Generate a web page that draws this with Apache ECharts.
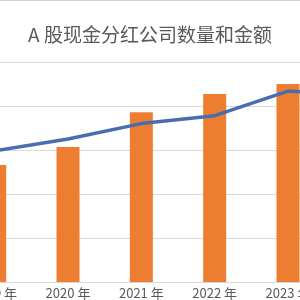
<!DOCTYPE html>
<html><head><meta charset="utf-8">
<style>html,body{margin:0;padding:0;background:#fff}#c{width:300px;height:300px}</style>
<script src="https://cdn.jsdelivr.net/npm/echarts@6/dist/echarts.min.js"></script>
</head><body><div id="c"></div>
<script>
const categories = ['2019 年', '2020 年', '2021 年', '2022 年', '2023 年', '2024 年'];
const companyCounts = [2660, 3070, 3860, 4270, 4500, 4600];
const dividendAmounts = [1.49, 1.625, 1.80, 1.89, 2.17, 2.125];
const titleText = 'A 股现金分红公司数量和金额';

const chart = echarts.init(document.getElementById('c'));
chart.setOption({
  animation: false,
  backgroundColor: '#fff',
  title: {
    text: titleText, left: 'center', top: 20,
    textStyle: { fontFamily: 'Noto Sans CJK SC', fontSize: 19, fontWeight: 'normal', color: '#595959' }
  },
  grid: { left: -42, right: -98, top: 62, bottom: 18, containLabel: false, outerBoundsMode: 'none' },
  xAxis: {
    type: 'category', data: categories,
    axisLine: { lineStyle: { color: '#d9d9d9' } },
    axisTick: { show: false },
    axisLabel: { fontFamily: 'Noto Sans CJK SC', fontSize: 13, color: '#595959', margin: 5 }
  },
  yAxis: [
    { type: 'value', min: 0, max: 5000, interval: 1000, axisLabel: { show: false },
      splitLine: { lineStyle: { color: '#d9d9d9' } } },
    { type: 'value', min: 0, max: 2.5, interval: 0.5, axisLabel: { show: false }, splitLine: { show: false } }
  ],
  series: [
    { type: 'bar', data: companyCounts, barWidth: 23, itemStyle: { color: '#ED7D31' } },
    { type: 'line', yAxisIndex: 1, data: dividendAmounts, symbol: 'none',
      lineStyle: { color: '#4A6DB0', width: 3.5 } }
  ],
  graphic: [{ type: 'line', shape: { x1: 0, y1: 0.5, x2: 300, y2: 0.5 }, style: { stroke: '#d4d4d4', lineWidth: 1 } }]
});
</script></body></html>
